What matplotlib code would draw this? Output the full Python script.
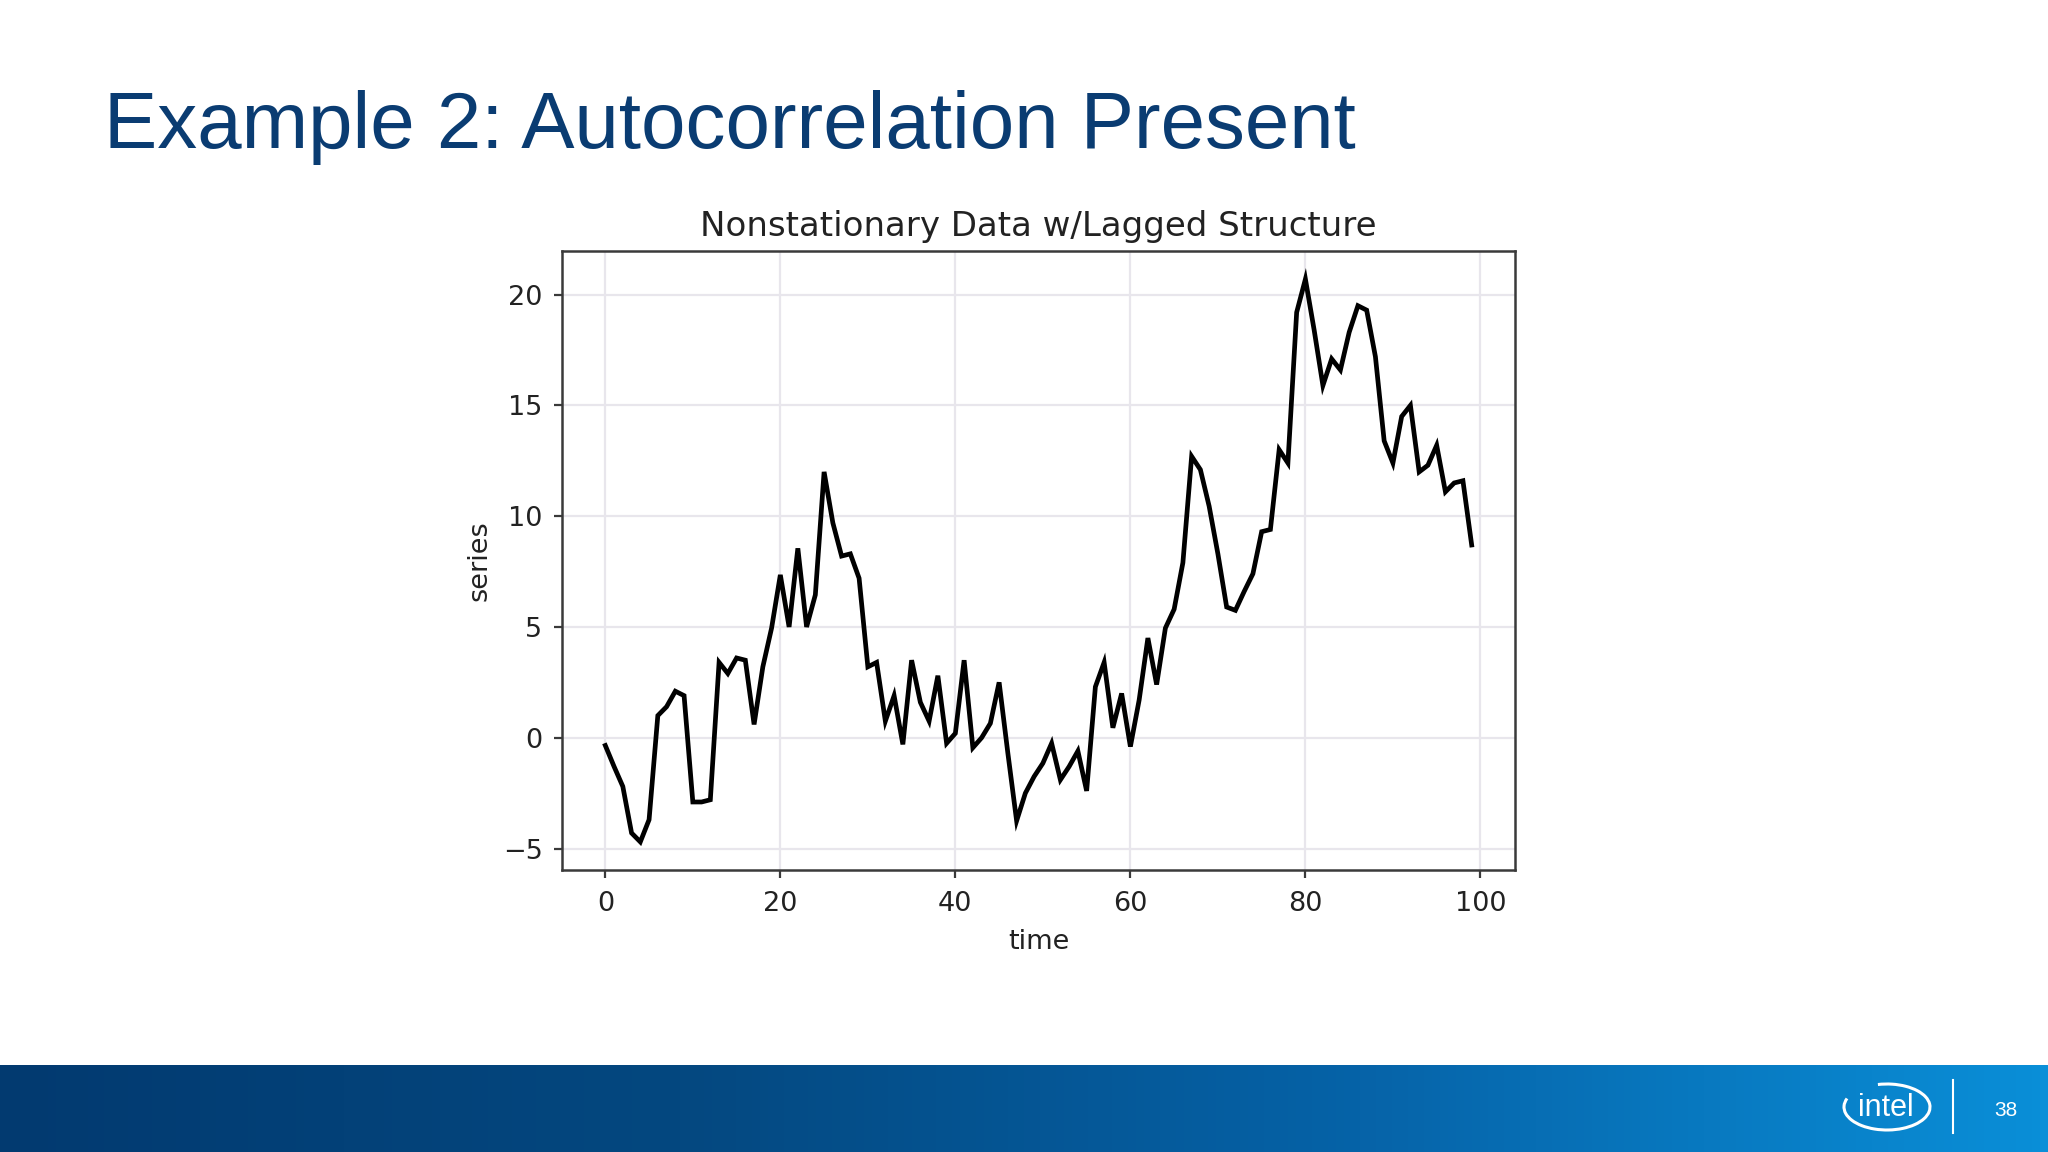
import numpy as np
import matplotlib
matplotlib.use("Agg")
import matplotlib.pyplot as plt
from matplotlib.patches import Arc
from matplotlib.colors import LinearSegmentedColormap

# ---------------- data ----------------
time = list(range(100))
series = [
    -0.35, -1.3, -2.2, -4.3, -4.7, -3.7, 1.0, 1.4, 2.1, 1.9,
    -2.9, -2.9, -2.8, 3.4, 2.9, 3.6, 3.5, 0.6, 3.2, 4.95,
    7.35, 5.0, 8.55, 5.0, 6.45, 12.0, 9.7, 8.2, 8.3, 7.2,
    3.2, 3.4, 0.75, 1.9, -0.3, 3.5, 1.6, 0.75, 2.8, -0.25,
    0.2, 3.5, -0.45, 0.0, 0.65, 2.5, -0.7, -3.75, -2.5, -1.75,
    -1.15, -0.25, -1.9, -1.3, -0.6, -2.4, 2.3, 3.4, 0.45, 2.0,
    -0.4, 1.7, 4.5, 2.4, 4.95, 5.8, 7.9, 12.7, 12.1, 10.45,
    8.3, 5.9, 5.75, 6.6, 7.4, 9.3, 9.4, 13.0, 12.4, 19.2,
    20.7, 18.4, 15.9, 17.1, 16.6, 18.3, 19.5, 19.3, 17.2, 13.4,
    12.4, 14.5, 15.0, 12.0, 12.3, 13.2, 11.1, 11.5, 11.6, 8.7,
]
xticks = [0, 20, 40, 60, 80, 100]
yticks = [-5, 0, 5, 10, 15, 20]

slide_title = "Example 2: Autocorrelation Present"
chart_title = "Nonstationary Data w/Lagged Structure"
page_number = "38"

W, H = 2048, 1152
fig = plt.figure(figsize=(W / 100, H / 100), dpi=100, facecolor="white")

# ---------------- slide title ----------------
fig.text(104 / W, 1 - 148 / H, slide_title, fontsize=57.5, color="#0a3c72",
         family="Liberation Sans", ha="left", va="baseline")

# ---------------- chart ----------------
ax = fig.add_axes([562 / W, 1 - 870 / H, (1515 - 562) / W, (870 - 251) / H])
ax.set_facecolor("white")
ax.plot(time, series, color="black", lw=3.4, solid_joinstyle="miter")
ax.set_xticks(xticks)
ax.set_yticks(yticks)
ax.set_yticklabels(["\u2212" + str(-v) if v < 0 else str(v) for v in yticks])
ax.grid(True, color="#e8e6ec", lw=1.6)
ax.set_axisbelow(True)
for s in ax.spines.values():
    s.set_color("#3a3a3a")
    s.set_linewidth(1.8)
ax.tick_params(axis="both", labelsize=19.5, length=6, width=1.6,
               color="#3a3a3a", labelcolor="#222222")
ax.tick_params(axis="x", pad=9)
ax.tick_params(axis="y", pad=8)
ax.set_title(chart_title, fontsize=24.5, color="#222222", pad=11)
ax.set_xlabel("time", fontsize=19.5, color="#222222", labelpad=9)
ax.set_ylabel("series", fontsize=19.5, color="#222222", labelpad=7)

# ---------------- footer ----------------
fh = 87
fax = fig.add_axes([0, 0, 1, fh / H])
cmap = LinearSegmentedColormap.from_list(
    "ft", ["#023a70", "#044880", "#0663a8", "#0a8fd8"])
grad = np.linspace(0, 1, 256).reshape(1, -1)
fax.imshow(grad, aspect="auto", cmap=cmap, extent=[0, W, 0, fh])
fax.set_xlim(0, W)
fax.set_ylim(0, fh)
fax.axis("off")

# intel logo
fax.add_patch(Arc((1887, 45), 86, 46, theta1=168, theta2=112,
                  color="white", lw=2.2))
fax.text(1886, 44, "intel", color="white", fontsize=22,
         family="Liberation Sans", ha="center", va="center")
fax.plot([1953, 1953], [19, 72], color="white", lw=1.5)
fax.text(2006, 42, page_number, color="white", fontsize=15,
         family="Liberation Sans", ha="center", va="center")

fig.savefig("out.png", dpi=100, facecolor="white")
